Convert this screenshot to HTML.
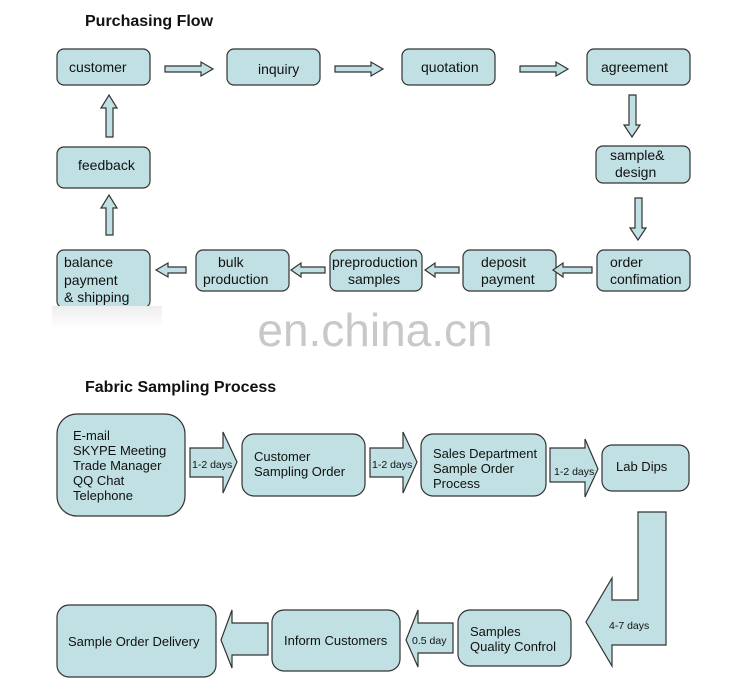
<!DOCTYPE html>
<html><head><meta charset="utf-8"><style>
html,body{margin:0;padding:0;background:#fff}
svg{display:block}
text{font-family:"Liberation Sans",Arial,sans-serif;fill:#111}
</style></head><body>
<svg width="750" height="693" viewBox="0 0 750 693" xmlns="http://www.w3.org/2000/svg">
<defs>
<linearGradient id="bl" x1="0" x2="0" y1="0" y2="1"><stop offset="0" stop-color="#eee"/><stop offset="1" stop-color="#fff"/></linearGradient>
</defs>
<g fill="#c0e0e3" stroke="#333" stroke-width="1.2">
<rect x="57" y="49" width="93" height="36" rx="7"/>
<rect x="227" y="49" width="93" height="36" rx="7"/>
<rect x="402" y="49" width="93" height="36" rx="7"/>
<rect x="587" y="49" width="103" height="36" rx="7"/>
<rect x="596" y="146" width="94" height="37" rx="7"/>
<rect x="597" y="250" width="93" height="41" rx="7"/>
<rect x="463" y="250" width="93" height="41" rx="7"/>
<rect x="330" y="250" width="92" height="41" rx="7"/>
<rect x="196" y="250" width="93" height="41" rx="7"/>
<rect x="57" y="250" width="93" height="58" rx="7"/>
<rect x="57" y="147" width="93" height="41" rx="7"/>
<polygon points="165,66 201,66 201,62 213,69 201,76 201,72 165,72"/>
<polygon points="335,66 371,66 371,62 383,69 371,76 371,72 335,72"/>
<polygon points="520,66 556,66 556,62 568,69 556,76 556,72 520,72"/>
<polygon points="629,95 636,95 636,125 640,125 632,137 624,125 629,125"/>
<polygon points="635,198 642,198 642,228 646,228 638,240 630,228 635,228"/>
<polygon points="592,267 563,267 563,263 553,270 563,277 563,273 592,273"/>
<polygon points="459,267 435,267 435,263 425,270 435,277 435,273 459,273"/>
<polygon points="325,267 301,267 301,263 291,270 301,277 301,273 325,273"/>
<polygon points="186,267 168,267 168,263 156,270 168,277 168,273 186,273"/>
<polygon points="106,137 113,137 113,108 117,108 109,95 101,108 106,108"/>
<polygon points="106,235 113,235 113,208 117,208 109,195 101,208 106,208"/>
</g>
<rect x="52" y="306" width="110" height="22" fill="url(#bl)"/>
<text x="375" y="346" font-size="46" text-anchor="middle" style="fill:#c8c8c8">en.china.cn</text>
<g font-size="14">
<text x="85" y="26" font-weight="bold" font-size="16">Purchasing Flow</text>
<text x="69" y="72">customer</text>
<text x="258" y="74">inquiry</text>
<text x="421" y="72">quotation</text>
<text x="601" y="72">agreement</text>
<text x="610" y="160">sample&amp;</text>
<text x="615" y="177">design</text>
<text x="610" y="267">order</text>
<text x="610" y="284">confimation</text>
<text x="481" y="267">deposit</text>
<text x="481" y="284">payment</text>
<text x="332" y="267">preproduction</text>
<text x="348" y="284">samples</text>
<text x="218" y="267">bulk</text>
<text x="203" y="284">production</text>
<text x="64" y="267">balance</text>
<text x="64" y="285">payment</text>
<text x="64" y="302">&amp; shipping</text>
<text x="78" y="170">feedback</text>
<text x="85" y="392" font-weight="bold" font-size="16">Fabric Sampling Process</text>
</g>
<g fill="#c0e0e3" stroke="#333" stroke-width="1.2">
<rect x="57" y="414" width="128" height="102" rx="20"/>
<rect x="242" y="434" width="123" height="62" rx="12"/>
<rect x="421" y="434" width="125" height="62" rx="12"/>
<rect x="602" y="445" width="87" height="46" rx="10"/>
<rect x="458" y="610" width="113" height="56" rx="12"/>
<rect x="272" y="610" width="128" height="61" rx="12"/>
<rect x="57" y="605" width="159" height="72" rx="12"/>
<polygon points="190,448 223,448 223,432 237,462 223,493 223,477 190,477"/>
<polygon points="370,448 403,448 403,432 417,462 403,493 403,477 370,477"/>
<polygon points="550,448 585,448 585,439 598,469 585,497 585,482 550,482"/>
<polygon points="638,512 666,512 666,645 612,645 612,666 586,622 612,578 612,600 638,600"/>
<polygon points="453,623 418,623 418,610 406,640 418,667 418,653 453,653"/>
<polygon points="268,623 232,623 232,610 221,640 232,668 232,655 268,655"/>
</g>
<g font-size="13">
<text x="73" y="440">E-mail</text>
<text x="73" y="455">SKYPE Meeting</text>
<text x="73" y="470">Trade Manager</text>
<text x="73" y="485">QQ Chat</text>
<text x="73" y="500">Telephone</text>
<text x="254" y="461">Customer</text>
<text x="254" y="476">Sampling Order</text>
<text x="433" y="458">Sales Department</text>
<text x="433" y="473">Sample Order</text>
<text x="433" y="488">Process</text>
<text x="616" y="471">Lab Dips</text>
<text x="470" y="636">Samples</text>
<text x="470" y="651">Quality Confrol</text>
<text x="284" y="645">Inform Customers</text>
<text x="68" y="646">Sample Order Delivery</text>
</g>
<g font-size="10.5">
<text x="192" y="468">1-2 days</text>
<text x="372" y="468">1-2 days</text>
<text x="554" y="475">1-2 days</text>
<text x="609" y="629">4-7 days</text>
<text x="412" y="644">0.5 day</text>
</g>
</svg>
</body></html>
